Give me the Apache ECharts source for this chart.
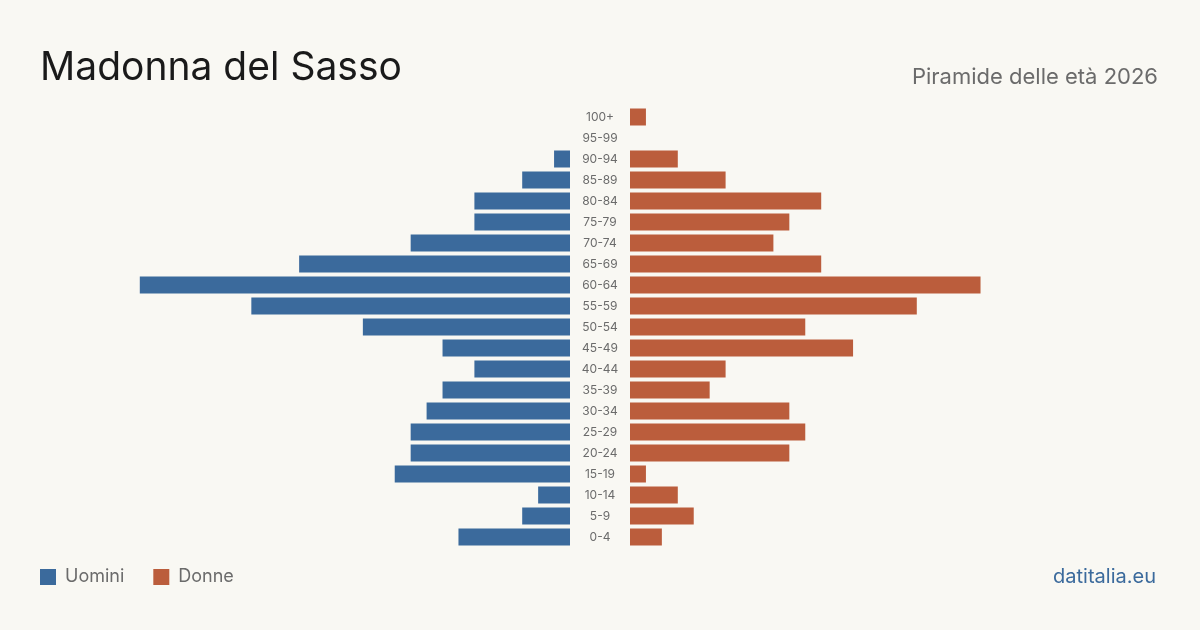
<!DOCTYPE html>
<html>
<head>
<meta charset="utf-8">
<script src="https://cdn.jsdelivr.net/npm/echarts@6/dist/echarts.min.js"></script>
<style>
  html, body { margin: 0; padding: 0; background: #f9f8f3; }
  #chart { width: 1200px; height: 630px; }
</style>
</head>
<body>
<div id="chart"></div>
<script>
// classi di età, dal basso verso l'alto
const ageGroups = ["0-4", "5-9", "10-14", "15-19", "20-24", "25-29", "30-34", "35-39", "40-44", "45-49",
  "50-54", "55-59", "60-64", "65-69", "70-74", "75-79", "80-84", "85-89", "90-94", "95-99", "100+"];
const uomini = [7, 3, 2, 11, 10, 10, 9, 8, 6, 8, 13, 20, 27, 17, 10, 6, 6, 3, 1, 0, 0];
const donne = [2, 4, 3, 1, 10, 11, 10, 5, 6, 14, 11, 18, 22, 12, 9, 10, 12, 6, 3, 0, 1];

const blu = "#3b6a9c";
const rosso = "#bb5d3c";
const fontFamily = "Inter, 'Noto Sans', sans-serif";

const myChart = echarts.init(document.getElementById("chart"));
myChart.setOption({
  backgroundColor: "#f9f8f3",
  textStyle: { fontFamily: fontFamily },
  title: [
    {
      text: "Madonna del Sasso",
      left: 35,
      top: 44,
      textStyle: { fontSize: 39, fontWeight: "normal", color: "#1a1a1a", fontFamily: fontFamily },
    },
    {
      text: "Piramide delle età 2026",
      right: 37,
      top: 61,
      textStyle: { fontSize: 22, fontWeight: "normal", color: "#6b6b6b", fontFamily: fontFamily },
    },
    {
      text: "datitalia.eu",
      right: 39,
      top: 562,
      textStyle: { fontSize: 20, fontWeight: "normal", color: blu, fontFamily: fontFamily },
    },
  ],
  legend: {
    left: 35,
    top: 563,
    icon: "rect",
    itemWidth: 16,
    itemHeight: 16,
    itemGap: 29,
    textStyle: { fontSize: 18, color: "#6b6b6b", padding: [0, 0, 0, 4] },
    data: ["Uomini", "Donne"],
  },
  grid: [
    { left: 92, right: 630, top: 106.5, height: 441 },
    { left: 630, right: 92, top: 106.5, height: 441 },
  ],
  xAxis: [
    { gridIndex: 0, type: "value", min: 0, max: 30, inverse: true, show: false },
    { gridIndex: 1, type: "value", min: 0, max: 30, show: false },
  ],
  yAxis: [
    { gridIndex: 0, type: "category", data: ageGroups, show: false },
    {
      gridIndex: 1,
      type: "category",
      data: ageGroups,
      axisLine: { show: false },
      axisTick: { show: false },
      axisLabel: { align: "center", margin: 30, fontSize: 12, color: "#6b6b6b" },
    },
  ],
  series: [
    {
      name: "Uomini",
      type: "bar",
      xAxisIndex: 0,
      yAxisIndex: 0,
      data: uomini,
      barWidth: 17,
      itemStyle: { color: blu },
    },
    {
      name: "Donne",
      type: "bar",
      xAxisIndex: 1,
      yAxisIndex: 1,
      data: donne,
      barWidth: 17,
      itemStyle: { color: rosso },
    },
  ],
});
</script>
</body>
</html>
